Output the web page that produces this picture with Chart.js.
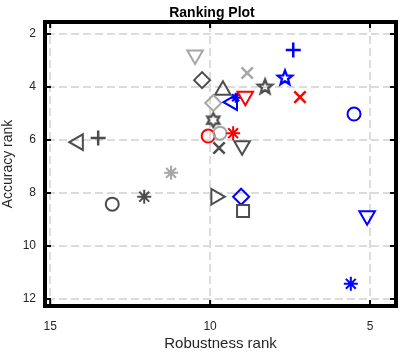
<!DOCTYPE html>
<html>
<head>
<meta charset="utf-8">
<script src="https://cdn.jsdelivr.net/npm/chart.js@4.4.1/dist/chart.umd.min.js"></script>
<style>
  html, body { margin: 0; padding: 0; background: #fff; }
  #wrap { width: 407px; height: 353px; }
</style>
</head>
<body>
<div id="wrap"><canvas id="rank" width="407" height="353"></canvas></div>
<script>
// ---------------------------------------------
// Data
// ---------------------------------------------
const robustness = [14.12, 13.5, 10.47, 10.25, 9.6, 9.9, 9.2, 9.3, 8.9, 9.9, 10.06, 9.69, 9.28, 9.72, 9.0,
                    8.84, 8.28, 7.66, 7.4, 7.19, 5.5, 11.22, 12.06, 13.06, 9.82, 9.03, 8.97, 5.09, 5.6];
const accuracy   = [6.08, 5.92, 2.79, 3.74, 4.12, 4.6, 4.4, 4.57, 4.35, 5.25, 5.85, 5.74, 5.74, 6.3, 6.22,
                    3.47, 4.0, 3.66, 2.6, 4.38, 5.02, 7.24, 8.14, 8.42, 8.14, 8.14, 8.68, 8.86, 11.43];
const markers    = ['triLeft', 'plus', 'triDown', 'diamond', 'triUp', 'diamond', 'asterisk', 'triLeft', 'triDown',
                    'hexagram', 'circle', 'circle', 'asterisk', 'x', 'triDown', 'x', 'pentagram', 'pentagram',
                    'plus', 'x', 'circle', 'asterisk', 'asterisk', 'circle', 'triRight', 'diamond', 'square',
                    'triDown', 'asterisk'];
const colorKeys  = ['dark', 'dark', 'light', 'dark', 'dark', 'light', 'blue', 'blue', 'red', 'dark', 'red', 'light',
                    'red', 'dark', 'dark', 'light', 'dark', 'blue', 'blue', 'red', 'blue', 'light', 'dark', 'dark',
                    'dark', 'blue', 'dark', 'blue', 'blue'];
const xTicks = [15, 10, 5];
const yTicks = [2, 4, 6, 8, 10, 12];
const chartTitle = 'Ranking Plot';

// ---------------------------------------------
// Styles
// ---------------------------------------------
const palette = { dark: '#4d4d4d', light: '#a6a6a6', red: '#ff0000', blue: '#0000ff' };
const FONT = '"Liberation Sans", Arial, Helvetica, sans-serif';

function starCanvas(points, outer, inner, color) {
  const c = document.createElement('canvas');
  c.width = 22; c.height = 22;
  const g = c.getContext('2d');
  g.strokeStyle = color;
  g.lineWidth = 2.3;
  g.beginPath();
  for (let i = 0; i < points * 2; i++) {
    const r = i % 2 === 0 ? outer : inner;
    const a = -Math.PI / 2 + i * Math.PI / points;
    const px = 11 + r * Math.cos(a), py = 11 + r * Math.sin(a);
    if (i === 0) g.moveTo(px, py); else g.lineTo(px, py);
  }
  g.closePath();
  g.stroke();
  return c;
}

function markerStyle(kind, color) {
  switch (kind) {
    case 'circle':   return { pointStyle: 'circle', radius: 6.5, rotation: 0, width: 2 };
    case 'plus':     return { pointStyle: 'cross', radius: 7.5, rotation: 0, width: 2.5 };
    case 'x':        return { pointStyle: 'crossRot', radius: 8, rotation: 0, width: 2.5 };
    case 'asterisk': return { pointStyle: 'star', radius: 7, rotation: 0, width: 2 };
    case 'diamond':  return { pointStyle: 'rectRot', radius: 8, rotation: 0, width: 2 };
    case 'square':   return { pointStyle: 'rect', radius: 8.5, rotation: 0, width: 2 };
    case 'triUp':    return { pointStyle: 'triangle', radius: 9, rotation: 0, width: 2 };
    case 'triDown':  return { pointStyle: 'triangle', radius: 9, rotation: 180, width: 2 };
    case 'triLeft':  return { pointStyle: 'triangle', radius: 9, rotation: 270, width: 2 };
    case 'triRight': return { pointStyle: 'triangle', radius: 9, rotation: 90, width: 2 };
    case 'pentagram':return { pointStyle: starCanvas(5, 7.5, 3.2, color), radius: 8, rotation: 0, width: 2 };
    case 'hexagram': return { pointStyle: starCanvas(6, 7, 4, color), radius: 8, rotation: 0, width: 2 };
  }
}

const datasets = robustness.map((xv, i) => {
  const color = palette[colorKeys[i]];
  const m = markerStyle(markers[i], color);
  // the blue asterisk mostly hidden behind the blue/red triangles is drawn smaller
  const r = (colorKeys[i] === 'blue' && markers[i] === 'asterisk' && i < 10) ? 5 : m.radius;
  return {
    data: [{ x: xv, y: accuracy[i] }],
    order: robustness.length - i,
    pointStyle: m.pointStyle,
    pointRadius: r,
    pointHoverRadius: r,
    pointRotation: m.rotation,
    pointBorderColor: color,
    pointBackgroundColor: 'rgba(0,0,0,0)',
    pointBorderWidth: m.width,
    pointHoverBorderWidth: m.width
  };
});

// ---------------------------------------------
// Dashed grid, box, inward ticks, title (MATLAB look)
// ---------------------------------------------
const frame = {
  id: 'frame',
  beforeDatasetsDraw(chart) {
    const { ctx, chartArea: a, scales: { x, y } } = chart;
    ctx.save();
    ctx.strokeStyle = '#dcdcdc';
    ctx.lineWidth = 2;
    ctx.setLineDash([8, 4]);
    ctx.beginPath();
    xTicks.forEach(v => {
      const p = Math.round(x.getPixelForValue(v));
      ctx.moveTo(p, a.top); ctx.lineTo(p, a.bottom);
    });
    yTicks.forEach(v => {
      const p = Math.round(y.getPixelForValue(v));
      ctx.moveTo(a.left, p); ctx.lineTo(a.right, p);
    });
    ctx.stroke();
    ctx.restore();
  },
  afterDatasetsDraw(chart) {
    const { ctx, chartArea: a, scales: { x, y } } = chart;
    ctx.save();
    ctx.strokeStyle = '#000';
    ctx.lineWidth = 2;
    ctx.beginPath();
    xTicks.forEach(v => {
      const p = x.getPixelForValue(v);
      ctx.moveTo(p, a.bottom); ctx.lineTo(p, a.bottom - 4);
      ctx.moveTo(p, a.top); ctx.lineTo(p, a.top + 4);
    });
    yTicks.forEach(v => {
      const p = y.getPixelForValue(v);
      ctx.moveTo(a.left, p); ctx.lineTo(a.left + 4, p);
      ctx.moveTo(a.right, p); ctx.lineTo(a.right - 4, p);
    });
    ctx.stroke();
    ctx.lineWidth = 4;
    ctx.strokeRect(a.left - 2, a.top - 2, a.right - a.left + 4, a.bottom - a.top + 4);

    ctx.fillStyle = '#000';
    ctx.font = 'bold 14px ' + FONT;
    ctx.textAlign = 'center';
    ctx.textBaseline = 'alphabetic';
    ctx.fillText(chartTitle, 212, 17);
    ctx.restore();
  }
};

const noGrid = { display: false, drawTicks: false };

new Chart(document.getElementById('rank'), {
  type: 'scatter',
  data: { datasets },
  options: {
    responsive: false,
    animation: false,
    events: [],
    layout: { padding: { top: 24, right: 13, left: 0, bottom: 0 } },
    plugins: {
      legend: { display: false },
      tooltip: { enabled: false },
      title: { display: false }
    },
    scales: {
      x: {
        type: 'linear',
        reverse: true,
        min: 4.25,
        max: 15.1,
        afterBuildTicks: s => { s.ticks = xTicks.map(v => ({ value: v })); },
        afterFit: s => { s.height = 49; },
        border: { display: false },
        grid: noGrid,
        ticks: { color: '#262626', padding: 15, font: { family: FONT, size: 12 } },
        title: { display: true, text: 'Robustness rank', color: '#262626',
                 font: { family: FONT, size: 15 }, padding: { top: 1, bottom: 0 } }
      },
      y: {
        type: 'linear',
        reverse: true,
        min: 1.62,
        max: 12.19,
        afterBuildTicks: s => { s.ticks = yTicks.map(v => ({ value: v })); },
        afterFit: s => { s.width = 47; },
        border: { display: false },
        grid: noGrid,
        ticks: { color: '#262626', padding: 11, font: { family: FONT, size: 12 } },
        title: { display: true, text: 'Accuracy rank', color: '#262626',
                 font: { family: FONT, size: 14 }, padding: { top: 0, bottom: 0 } }
      }
    }
  },
  plugins: [frame]
});
</script>
</body>
</html>
